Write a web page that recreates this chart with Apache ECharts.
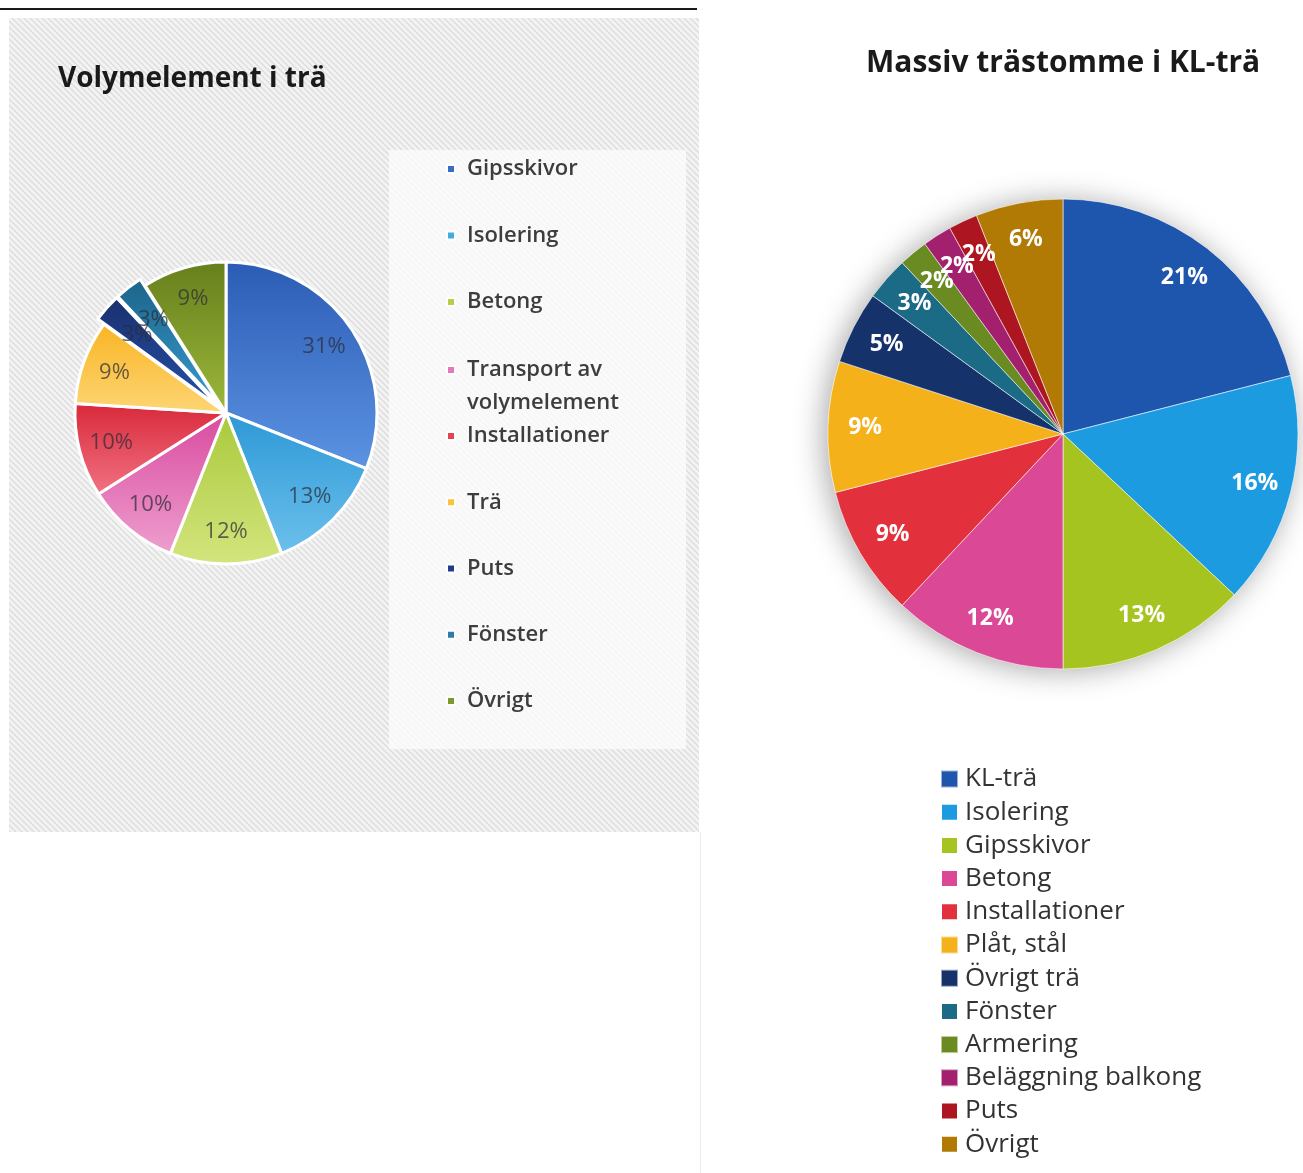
<!DOCTYPE html>
<html>
<head>
<meta charset="utf-8">
<script src="https://cdn.jsdelivr.net/npm/echarts@6/dist/echarts.min.js"></script>
<style>
  html, body { margin: 0; padding: 0; background: #ffffff; }
  #chart { width: 1303px; height: 1173px; }
</style>
</head>
<body>
<div id="chart"></div>
<script>
// Volymelement i trä – andel per materialgrupp (%)
const leftCategories = ['Gipsskivor', 'Isolering', 'Betong', 'Transport av\nvolymelement', 'Installationer', 'Trä', 'Puts', 'Fönster', 'Övrigt'];
const leftValues = [31, 13, 12, 10, 10, 9, 3, 3, 9];
const leftPulledOut = ['Puts', 'Fönster'];

// Massiv trästomme i KL-trä – andel per materialgrupp (%)
const rightCategories = ['KL-trä', 'Isolering', 'Gipsskivor', 'Betong', 'Installationer', 'Plåt, stål', 'Övrigt trä', 'Fönster', 'Armering', 'Beläggning balkong', 'Puts', 'Övrigt'];
const rightValues = [21, 16, 13, 12, 9, 9, 5, 3, 2, 2, 2, 6];

// Colour ramps (top -> bottom of each slice) for the left chart
const leftColorsTop = ['#2b5cb5', '#2d98d6', '#a9c93a', '#d94a9f', '#d8283a', '#f9b423', '#1a2f6e', '#1b6488', '#667f1c'];
const leftColorsBottom = ['#5c93e2', '#6cc0ec', '#d3e57e', '#ee9fcf', '#f27383', '#fdd675', '#2552a8', '#3a9bd0', '#9db83b'];
const leftLegendColors = ['#3a6cc6', '#45aade', '#b5d048', '#e27ab8', '#e4434f', '#fcc33a', '#1f3d8a', '#2a7ea8', '#7c9a2a'];
const rightColors = ['#1f56ad', '#1d9be0', '#a6c41f', '#da4896', '#e2313c', '#f5b11a', '#15336a', '#1b6b87', '#6a8b22', '#a3206e', '#ad1620', '#b17a05'];

const FONT = '"Open Sans", Lato, sans-serif';
const SQUARE = 'path://M0,0L10,0L10,10L0,10Z';

function hatchTile() {
  const c = document.createElement('canvas');
  c.width = 6; c.height = 6;
  const g = c.getContext('2d');
  g.fillStyle = '#f3f3f3';
  g.fillRect(0, 0, 6, 6);
  g.strokeStyle = '#dcdcdc';
  g.lineWidth = 1.3;
  g.beginPath();
  g.moveTo(-1, -1); g.lineTo(7, 7);
  g.moveTo(-1, 5); g.lineTo(1, 7);
  g.moveTo(5, -1); g.lineTo(7, 1);
  g.stroke();
  return c;
}

const leftData = leftCategories.map((name, i) => ({
  name: name,
  value: leftValues[i],
  selected: leftPulledOut.indexOf(name) >= 0,
  itemStyle: {
    color: {
      type: 'linear', x: 0, y: 0, x2: 0, y2: 1,
      colorStops: [{ offset: 0, color: leftColorsTop[i] }, { offset: 1, color: leftColorsBottom[i] }]
    }
  }
}));
const leftLabelData = leftCategories.map((name, i) => ({ name: name, value: leftValues[i] }));

const rightData = rightCategories.map((name, i) => ({
  name: name, value: rightValues[i], itemStyle: { color: rightColors[i] }
}));
const rightPlain = rightCategories.map((name, i) => ({ name: name, value: rightValues[i] }));

function legendItems(names, colors, from, to) {
  const out = [];
  for (let i = from; i < to; i++) {
    out.push({ name: names[i], itemStyle: { color: colors[i] } });
  }
  return out;
}

const leftLegendText = { fontFamily: FONT, fontSize: 22, fontWeight: 600, color: '#3d3d3d', lineHeight: 26 };
const leftLegendBase = {
  orient: 'vertical',
  left: 446,
  padding: 0,
  icon: SQUARE,
  itemWidth: 22,
  itemHeight: 8,
  selectedMode: false,
  textStyle: leftLegendText
};

const chart = echarts.init(document.getElementById('chart'), null, { renderer: 'canvas' });

chart.setOption({
  animation: false,
  backgroundColor: '#ffffff',
  graphic: [
    { type: 'rect', z: -10, shape: { x: 9, y: 18, width: 690, height: 814 },
      style: { fill: { image: hatchTile(), repeat: 'repeat' } } },
    { type: 'rect', z: -9, shape: { x: 389, y: 150, width: 297, height: 599 },
      style: { fill: 'rgba(250,250,250,0.85)' } },
    { type: 'line', z: -8, shape: { x1: 0, y1: 9, x2: 697, y2: 9 },
      style: { stroke: '#1a1a1a', lineWidth: 2 } },
    { type: 'line', z: -8, shape: { x1: 700.5, y1: 832, x2: 700.5, y2: 1173 },
      style: { stroke: '#ececec', lineWidth: 1 } }
  ],
  title: [
    { text: 'Volymelement i trä', left: 58, top: 65, padding: 0,
      textStyle: { fontFamily: FONT, fontSize: 28, fontWeight: 'bold', color: '#1a1a1a' } },
    { text: 'Massiv trästomme i KL-trä', left: 866, top: 48, padding: 0,
      textStyle: { fontFamily: FONT, fontSize: 30, fontWeight: 'bold', color: '#1a1a1a' } }
  ],
  legend: [
    Object.assign({}, leftLegendBase, {
      top: 156, itemGap: 40.5,
      data: legendItems(leftCategories, leftLegendColors, 0, 3)
    }),
    Object.assign({}, leftLegendBase, {
      top: 320.5,
      formatter: function (name) { return '\n' + name; },
      textStyle: Object.assign({}, leftLegendText, { lineHeight: 33 }),
      data: legendItems(leftCategories, leftLegendColors, 3, 4)
    }),
    Object.assign({}, leftLegendBase, {
      top: 423, itemGap: 40.25,
      data: legendItems(leftCategories, leftLegendColors, 4, 9)
    }),
    {
      orient: 'vertical',
      left: 940,
      top: 766,
      padding: 0,
      icon: SQUARE,
      itemWidth: 21,
      itemHeight: 17,
      itemGap: 7.2,
      selectedMode: false,
      textStyle: { fontFamily: FONT, fontSize: 26, color: '#333333', lineHeight: 24 },
      data: legendItems(rightCategories, rightColors, 0, rightCategories.length)
    }
  ],
  series: [
    {
      name: 'Volymelement i trä',
      type: 'pie',
      center: [226, 413],
      radius: [0, 151],
      startAngle: 90,
      clockwise: true,
      selectedMode: 'multiple',
      selectedOffset: 8,
      silent: true,
      z: 3,
      itemStyle: { borderColor: '#ffffff', borderWidth: 3 },
      label: { show: false },
      labelLine: { show: false },
      data: leftData
    },
    {
      name: 'Volymelement etiketter',
      type: 'pie',
      center: [226, 413],
      radius: [80, 151],
      startAngle: 90,
      clockwise: true,
      silent: true,
      z: 4,
      itemStyle: { color: 'rgba(0,0,0,0)', borderWidth: 0 },
      labelLayout: { hideOverlap: false },
      label: {
        show: true, position: 'inside', formatter: '{c}%',
        fontFamily: FONT, fontSize: 22, color: 'rgba(45,45,55,0.72)'
      },
      labelLine: { show: false },
      data: leftLabelData
    },
    {
      name: 'Massiv trästomme',
      type: 'pie',
      center: [1063, 434],
      radius: [0, 235],
      startAngle: 90,
      clockwise: true,
      silent: true,
      z: 3,
      itemStyle: { borderColor: 'rgba(255,255,255,0.55)', borderWidth: 1 },
      label: { show: false },
      labelLine: { show: false },
      data: rightData
    },
    {
      name: 'Massiv trästomme skugga',
      type: 'pie',
      center: [1063, 434],
      radius: [0, 235],
      startAngle: 90,
      clockwise: true,
      silent: true,
      z: 1,
      itemStyle: { color: '#ffffff', shadowBlur: 30, shadowColor: 'rgba(0,0,0,0.35)', shadowOffsetX: -4, shadowOffsetY: 2 },
      label: { show: false },
      labelLine: { show: false },
      data: rightPlain
    },
    {
      name: 'Massiv trästomme etiketter',
      type: 'pie',
      center: [1063, 434],
      radius: [155, 235],
      startAngle: 90,
      clockwise: true,
      silent: true,
      z: 4,
      itemStyle: { color: 'rgba(0,0,0,0)', borderWidth: 0 },
      labelLayout: { hideOverlap: false },
      label: {
        show: true, position: 'inside', formatter: '{c}%',
        fontFamily: FONT, fontSize: 23, fontWeight: 'bold', color: '#ffffff'
      },
      labelLine: { show: false },
      data: rightPlain
    }
  ]
});
</script>
</body>
</html>
